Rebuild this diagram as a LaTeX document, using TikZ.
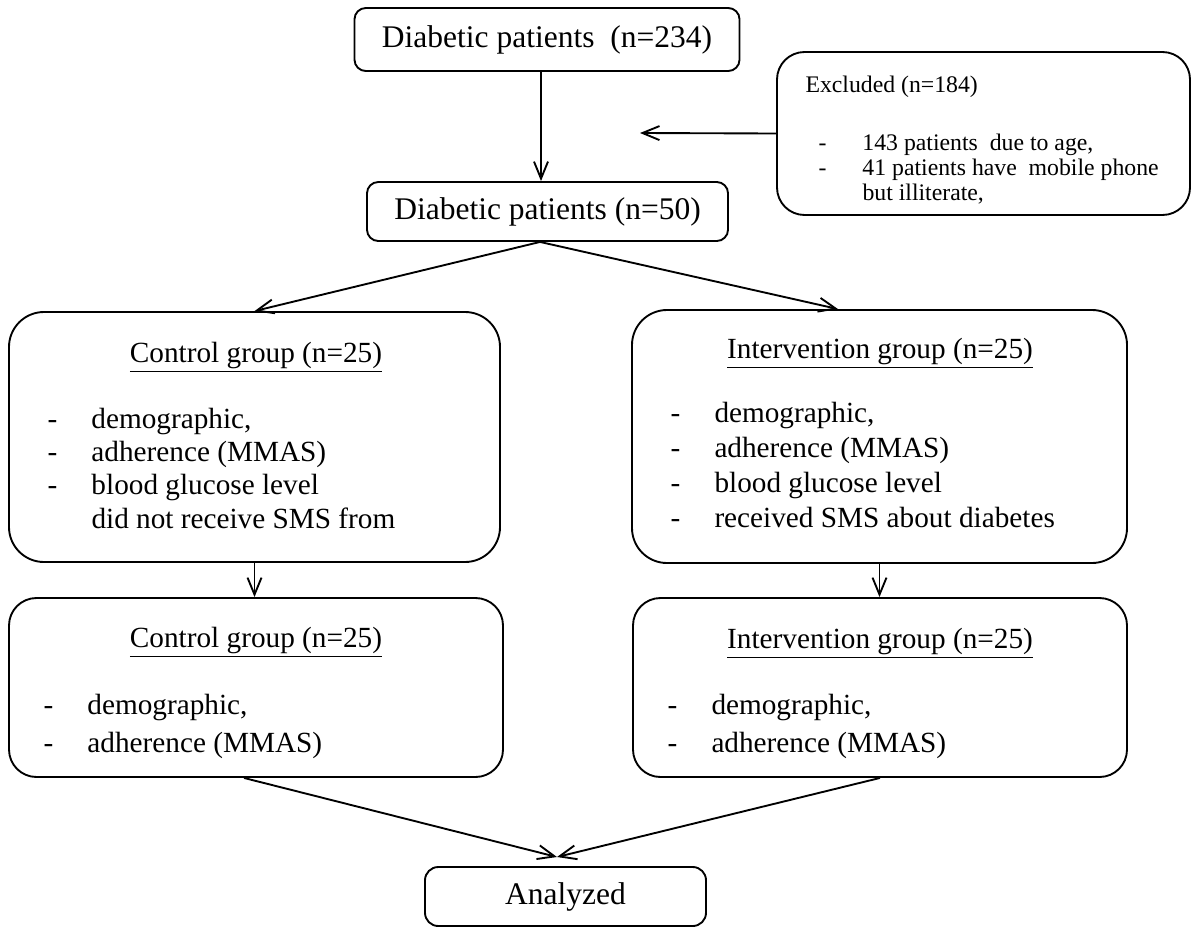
\documentclass[tikz,border=0pt]{standalone}
\usepackage{fontspec}
\setmainfont{Liberation Serif}
\usetikzlibrary{arrows.meta}

\tikzset{
  pbox/.style={draw, line width=0.75pt, rounded corners=4.5pt, inner sep=0pt, font=\fontsize{12.6}{15}\selectfont},
  gbox/.style={draw, line width=0.75pt, rounded corners=14pt, inner sep=0pt},
  arr/.style={line width=0.75pt, -{Straight Barb[length=6.8pt,width=5.6pt]}},
  grptitle/.style={anchor=base, inner sep=0pt, font=\fontsize{11.7}{13.4}\selectfont},
  grplist/.style={anchor=base west, inner sep=0pt, align=left},
}
\newcommand{\dashitem}{\makebox[17.6pt][l]{-}}
\newcommand{\noitem}{\hspace*{17.6pt}}

\begin{document}
\begin{tikzpicture}[x=0.4pt, y=-0.4pt]
\useasboundingbox (0,0) rectangle (1192,927);
\node[pbox, minimum width=154pt, minimum height=25.2pt] (all) at (547,39.5) {Diabetic patients~~(n=234)\hspace{13.6pt}};
\node[pbox, minimum width=144.4pt, minimum height=23.6pt] (sel) at (547.5,211.5) {Diabetic patients (n=50)};
\node[gbox, rounded corners=11pt, minimum width=165.2pt, minimum height=65.2pt] (excl) at (983.5,133.5) {};
\node[grplist, font=\fontsize{9.5}{10}\selectfont] (exclt) at (805,92) {Excluded (n=184)};
\node[grplist, font=\fontsize{9.5}{10}\selectfont] (excll) at (818,200) {\dashitem 143 patients~~due to age,\\ \dashitem 41 patients have~~mobile phone\\ \noitem but illiterate,};
\coordinate (exclTip) at (640,133);

\node[gbox, minimum width=196.4pt, minimum height=100pt] (ctrlA) at (254.5,437) {};
\node[grptitle] (ctrlAt) at (256,362) {\underline{Control group (n=25)}};
\node[grplist, font=\fontsize{11.7}{13.3}\selectfont] (ctrlAl) at (47,528) {\dashitem demographic,\\ \dashitem adherence (MMAS)\\ \dashitem blood glucose level\\ \noitem did not receive SMS from};

\node[gbox, minimum width=198pt, minimum height=101.2pt] (intA) at (879.5,436.5) {};
\node[grptitle] (intAt) at (880,358) {\underline{Intervention group (n=25)}};
\node[grplist, font=\fontsize{11.7}{13.9}\selectfont] (intAl) at (670,527) {\dashitem demographic,\\ \dashitem adherence (MMAS)\\ \dashitem blood glucose level\\ \dashitem received SMS about diabetes};

\node[gbox, rounded corners=11pt, minimum width=197.6pt, minimum height=71.6pt] (ctrlB) at (256,687.5) {};
\node[grptitle] (ctrlBt) at (256,647) {\underline{Control group (n=25)}};
\node[grplist, font=\fontsize{11.7}{15.2}\selectfont] (ctrlBl) at (43,752) {\dashitem demographic,\\ \dashitem adherence (MMAS)};

\node[gbox, rounded corners=11pt, minimum width=197.6pt, minimum height=71.6pt] (intB) at (880,687.5) {};
\node[grptitle] (intBt) at (880,648) {\underline{Intervention group (n=25)}};
\node[grplist, font=\fontsize{11.7}{15.2}\selectfont] (intBl) at (667,752) {\dashitem demographic,\\ \dashitem adherence (MMAS)};

\node[pbox, rounded corners=5.3pt, minimum width=112.4pt, minimum height=23.6pt] (anl) at (565.5,896.5) {Analyzed};
\coordinate (meet) at (557,857);

\draw[arr] ([xshift=-2.4pt]all.south) -- ([xshift=-2.4pt]all.south |- sel.north);
\draw[arr] (excl.west) -- (exclTip);
\draw[arr] ([xshift=-3pt]sel.south) -- (ctrlA.north);
\draw[arr] ([xshift=-3pt]sel.south) -- ([xshift=-16.6pt]intA.north);
\draw[arr] (ctrlA.south) -- (ctrlA.south |- ctrlB.north);
\draw[arr] (intA.south) -- (intA.south |- intB.north);
\draw[arr] ([xshift=-4.8pt]ctrlB.south) -- (meet);
\draw[arr] (intB.south) -- (meet);
\end{tikzpicture}
\end{document}
